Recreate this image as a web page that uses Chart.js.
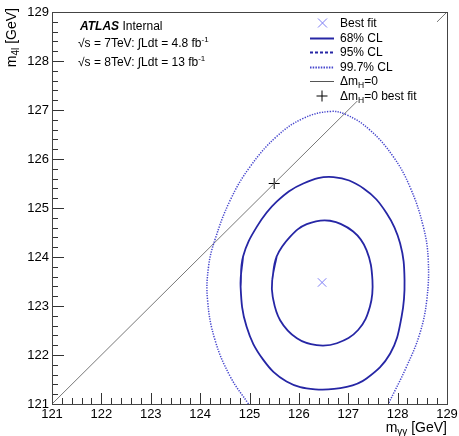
<!DOCTYPE html>
<html>
<head>
<meta charset="utf-8">
<script src="https://cdn.jsdelivr.net/npm/chart.js@4"></script>
<style>
  html, body { margin: 0; padding: 0; background: #fff; }
  canvas { display: block; }
</style>
</head>
<body>
<canvas id="c" width="459" height="436"></canvas>
<script>
// Axis range and tick values (GeV)
const axisMin = 121;
const axisMax = 129;
const tickLabels = [121, 122, 123, 124, 125, 126, 127, 128, 129];
const minorStep = 0.2;

// 68% CL contour (closed)
const cl68X = [125.46, 125.55, 125.82, 126.16, 126.63, 127.10, 127.37, 127.49, 127.44, 127.20, 126.77, 126.36, 125.96, 125.62, 125.47];
const cl68Y = [123.53, 124.01, 124.41, 124.67, 124.74, 124.52, 124.14, 123.53, 122.99, 122.51, 122.24, 122.20, 122.34, 122.71, 123.19];

// 95% CL contour (closed)
const cl95X = [124.82, 124.87, 125.15, 125.55, 126.09, 126.70, 127.31, 127.78, 128.05, 128.14, 128.08, 127.85, 127.37, 126.97, 126.33, 125.75, 125.28, 124.94];
const cl95Y = [123.39, 124.01, 124.62, 125.13, 125.50, 125.63, 125.40, 124.89, 124.28, 123.53, 122.78, 122.03, 121.52, 121.35, 121.30, 121.46, 121.90, 122.58];

// 99.7% CL contour (open, leaves through the lower edge)
const cl997X = [124.98, 124.61, 124.30, 124.15, 124.17, 124.30, 124.61, 125.01, 125.55, 126.09, 126.63, 126.97, 127.44, 127.91, 128.25, 128.52, 128.62, 128.59, 128.45, 128.18, 127.81];
const cl997Y = [121.00, 121.56, 122.31, 123.12, 123.80, 124.35, 125.16, 125.84, 126.46, 126.83, 126.97, 126.90, 126.59, 126.05, 125.43, 124.62, 123.94, 123.12, 122.44, 121.76, 121.00];

// Best fit point and the best fit constrained to equal masses
const bestFit = [126.47, 123.48];
const bestFitEqual = [125.50, 125.50];

// Equal-mass diagonal
const diagX = [121, 129];
const diagY = [121, 129];

const FONT = '"Liberation Sans", Arial, Helvetica, sans-serif';
const LINE_BLUE = 'rgb(38,38,165)';
const DOT_BLUE = 'rgb(70,70,205)';
const MARK_BLUE = 'rgb(125,125,245)';

function pts(xs, ys) { return xs.map((x, i) => ({ x: x, y: ys[i] })); }
function closedLoop(xs, ys) {
  const p = pts(xs, ys);
  return p.concat([p[0], p[1]]);
}

// Draws a run of text pieces; each piece may be shifted up/down and use its own size
function drawRich(ctx, x, y, parts) {
  let cx = x;
  for (const p of parts) {
    ctx.font = (p.style || '') + ' ' + p.size + 'px ' + FONT;
    ctx.fillText(p.t, cx, y + (p.dy || 0));
    cx += ctx.measureText(p.t).width;
  }
  return cx - x;
}
function richWidth(ctx, parts) {
  let w = 0;
  for (const p of parts) {
    ctx.font = (p.style || '') + ' ' + p.size + 'px ' + FONT;
    w += ctx.measureText(p.t).width;
  }
  return w;
}

// Experiment label and legend drawn over the data
const labelPlugin = {
  id: 'atlasLabels',
  afterDatasetsDraw(chart) {
    const ctx = chart.ctx;
    ctx.save();
    ctx.setLineDash([]);
    ctx.fillStyle = '#000';
    ctx.textBaseline = 'alphabetic';
    ctx.textAlign = 'left';
    drawRich(ctx, 80, 29.5, [
      { t: 'ATLAS', size: 12, style: 'italic bold' },
      { t: ' Internal', size: 12 }
    ]);
    const lumiLines = [['7', '4.8'], ['8', '13']];
    lumiLines.forEach((l, i) => {
      const y = 47 + i * 19;
      drawRich(ctx, 78, y, [
        { t: '√s = ' + l[0] + 'TeV: ∫Ldt = ' + l[1] + ' fb', size: 12 },
        { t: '-1', size: 8, dy: -5 }
      ]);
    });

    // legend box
    ctx.fillStyle = '#fff';
    ctx.fillRect(303, 13, 134, 88);
    const rows = [23, 37.5, 52, 66.5, 81, 95.5];
    const lx0 = 310, lx1 = 334, tx = 340;
    ctx.strokeStyle = MARK_BLUE;
    ctx.lineWidth = 1;
    ctx.beginPath();
    ctx.moveTo(318, rows[0] - 4.5); ctx.lineTo(327, rows[0] + 4.5);
    ctx.moveTo(327, rows[0] - 4.5); ctx.lineTo(318, rows[0] + 4.5);
    ctx.stroke();
    const styles = [
      { dash: [], color: LINE_BLUE, w: 2 },
      { dash: [3, 2], color: LINE_BLUE, w: 2 },
      { dash: [1.5, 1.2], color: DOT_BLUE, w: 2 },
      { dash: [], color: '#555', w: 1 }
    ];
    styles.forEach((s, i) => {
      ctx.strokeStyle = s.color;
      ctx.lineWidth = s.w;
      ctx.setLineDash(s.dash);
      ctx.beginPath();
      ctx.moveTo(lx0, Math.round(rows[i + 1]) + 0.5);
      ctx.lineTo(lx1, Math.round(rows[i + 1]) + 0.5);
      ctx.stroke();
    });
    ctx.setLineDash([]);
    ctx.strokeStyle = '#000';
    ctx.lineWidth = 1;
    ctx.beginPath();
    ctx.moveTo(316.5, rows[5] + 0.5); ctx.lineTo(327.5, rows[5] + 0.5);
    ctx.moveTo(322, rows[5] - 5); ctx.lineTo(322, rows[5] + 6);
    ctx.stroke();

    ctx.fillStyle = '#000';
    const texts = [
      [{ t: 'Best fit', size: 12 }],
      [{ t: '68% CL', size: 12 }],
      [{ t: '95% CL', size: 12 }],
      [{ t: '99.7% CL', size: 12 }],
      [{ t: 'Δm', size: 12 }, { t: 'H', size: 8.5, dy: 3 }, { t: '=0', size: 12 }],
      [{ t: 'Δm', size: 12 }, { t: 'H', size: 8.5, dy: 3 }, { t: '=0 best fit', size: 12 }]
    ];
    texts.forEach((parts, i) => drawRich(ctx, tx, rows[i] + 4.3, parts));
    ctx.restore();
  }
};

// ROOT-style inward ticks, frame, axis titles
const framePlugin = {
  id: 'rootFrame',
  afterDraw(chart) {
    const ctx = chart.ctx;
    const a = chart.chartArea;
    const xScale = chart.scales.x, yScale = chart.scales.y;
    const left = Math.round(a.left), bottom = Math.round(a.bottom);
    ctx.save();
    ctx.setTransform(1, 0, 0, 1, 0, 0);
    ctx.setLineDash([]);
    ctx.globalAlpha = 1;
    ctx.globalCompositeOperation = 'source-over';
    ctx.fillStyle = '#333';
    const nSteps = Math.round((axisMax - axisMin) / minorStep);
    for (let k = 0; k <= nSteps; k++) {
      const v = axisMin + k * minorStep;
      const major = k % 5 === 0;
      const px = Math.round(xScale.getPixelForValue(v));
      const py = Math.round(yScale.getPixelForValue(v));
      const lenX = major ? 11 : 6;
      const lenY = major ? 12 : 6;
      ctx.fillRect(px, bottom - lenX, 1, lenX);
      ctx.fillRect(left, py, lenY, 1);
    }
    ctx.strokeStyle = '#444';
    ctx.lineWidth = 1;
    ctx.strokeRect(left + 0.5, Math.round(a.top) + 0.5,
      Math.round(a.right - a.left), Math.round(a.bottom - a.top));

    ctx.fillStyle = '#000';
    ctx.textBaseline = 'alphabetic';
    ctx.textAlign = 'left';
    const xt = [
      { t: 'm', size: 14 },
      { t: 'γγ', size: 10, dy: 3 },
      { t: ' [GeV]', size: 14 }
    ];
    drawRich(ctx, a.right - richWidth(ctx, xt), 432, xt);
    const yt = [
      { t: 'm', size: 14 },
      { t: '4l', size: 10, dy: 3 },
      { t: ' [GeV]', size: 14 }
    ];
    ctx.translate(16, 8);
    ctx.rotate(-Math.PI / 2);
    drawRich(ctx, -richWidth(ctx, yt), 0, yt);
    ctx.restore();
  }
};

new Chart(document.getElementById('c'), {
  type: 'scatter',
  data: {
    datasets: [
      { label: '68% CL', data: closedLoop(cl68X, cl68Y), showLine: true, tension: 0.4,
        borderColor: LINE_BLUE, borderWidth: 1.8, pointRadius: 0 },
      { label: '95% CL', data: closedLoop(cl95X, cl95Y), showLine: true, tension: 0.4,
        borderColor: LINE_BLUE, borderWidth: 1.8, pointRadius: 0 },
      { label: '99.7% CL', data: pts(cl997X, cl997Y), showLine: true, tension: 0.4,
        borderColor: DOT_BLUE, borderWidth: 1.5, borderDash: [1.3, 1.3], pointRadius: 0 },
      { label: 'Δm_H=0', data: pts(diagX, diagY), showLine: true, tension: 0,
        borderColor: 'rgb(120,120,120)', borderWidth: 1, pointRadius: 0 },
      { label: 'Best fit', data: [{ x: bestFit[0], y: bestFit[1] }], pointStyle: 'crossRot',
        pointRadius: 6, borderColor: MARK_BLUE, borderWidth: 1, showLine: false },
      { label: 'Δm_H=0 best fit', data: [{ x: bestFitEqual[0], y: bestFitEqual[1] }], pointStyle: 'cross',
        pointRadius: 5.5, borderColor: '#000', borderWidth: 1, showLine: false }
    ]
  },
  options: {
    responsive: false,
    animation: false,
    devicePixelRatio: 1,
    layout: { padding: { top: 12, right: 12, left: 0, bottom: 0 } },
    plugins: { legend: { display: false }, tooltip: { enabled: false } },
    scales: {
      x: {
        type: 'linear', min: axisMin, max: axisMax,
        afterBuildTicks(s) { s.ticks = tickLabels.map(v => ({ value: v })); },
        ticks: { color: '#000', font: { family: FONT, size: 13 }, padding: 3,
          maxRotation: 0, autoSkip: false, callback: v => String(v) },
        grid: { display: false, drawTicks: false },
        border: { display: false },
        afterFit(s) { s.height = 32; s.paddingLeft = 0; s.paddingRight = 0; }
      },
      y: {
        type: 'linear', min: axisMin, max: axisMax,
        afterBuildTicks(s) { s.ticks = tickLabels.map(v => ({ value: v })); },
        ticks: { color: '#000', font: { family: FONT, size: 13 }, padding: 3,
          autoSkip: false, callback: v => String(v) },
        grid: { display: false, drawTicks: false },
        border: { display: false },
        afterFit(s) { s.width = 52; s.paddingTop = 0; s.paddingBottom = 0; }
      }
    }
  },
  plugins: [labelPlugin, framePlugin]
});
</script>
</body>
</html>
